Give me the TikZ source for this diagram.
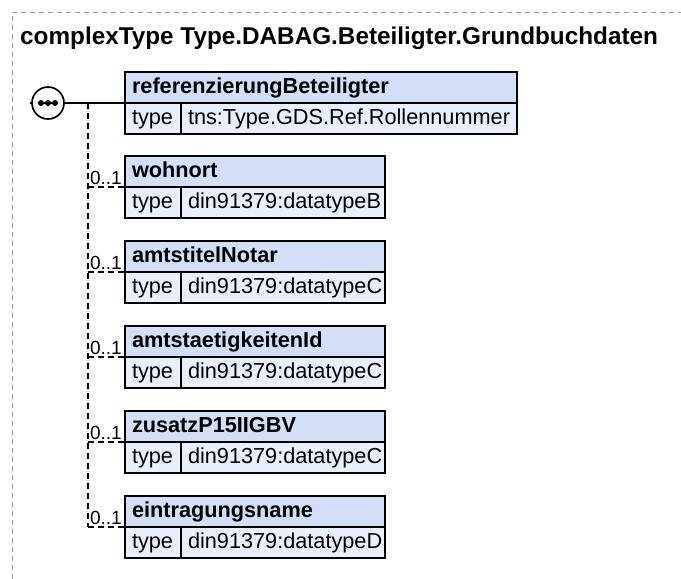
\documentclass[tikz,border=0pt]{standalone}
\usepackage{fontspec}
\setmainfont{Liberation Sans}
\definecolor{hdrfill}{HTML}{D2DFF6}
\definecolor{rowfill}{HTML}{EAF0FB}
\definecolor{framegray}{HTML}{9A9A9A}
\begin{document}
\begin{tikzpicture}[x=1pt,y=-1pt,
  cell/.style={draw=black, line width=1.6pt, anchor=north west, minimum height=31pt,
    inner xsep=7pt, inner ysep=0pt, align=left, outer sep=0pt,
    text height=15.6pt, text depth=4.6pt},
  hdr/.style={cell, fill=hdrfill, font=\fontsize{21.7}{24}\selectfont\bfseries},
  typ/.style={cell, fill=rowfill, font=\fontsize{21.7}{24}\selectfont, text width=42pt},
  val/.style={cell, fill=rowfill, font=\fontsize{21.7}{24}\selectfont},
  card/.style={anchor=base east, inner sep=0pt, font=\fontsize{19}{22}\selectfont},
  conn/.style={line width=1.5pt, dash pattern=on 6pt off 4pt},
  framel/.style={draw=framegray, line width=1pt, dash pattern=on 5pt off 4pt}
]
\useasboundingbox (0,0) rectangle (681,579);
% outer frame
\coordinate (fbl) at (12,579);
\coordinate (ftl) at (12,12);
\coordinate (ftr) at (681,12);
\draw[framel] (fbl) -- (ftl) -- (ftr);
% title
\node[anchor=base west, inner sep=0pt, font=\fontsize{24.3}{28}\selectfont\bfseries] (title) at (20,44) {complexType Type.DABAG.Beteiligter.Grundbuchdaten};

% element 1
\node[hdr, text width=378pt, minimum width=392pt] (h1) at (125,72) {referenzierungBeteiligter};
\node[typ] (t1) at (h1.south west) {type};
\node[val, text width=322pt] (v1) at (t1.north east) {tns:Type.GDS.Ref.Rollennummer};

% elements 2-6
\foreach \n/\top/\name/\tp in {2/156/wohnort/din91379:datatypeB,
                               3/241/amtstitelNotar/din91379:datatypeC,
                               4/326/amtstaetigkeitenId/din91379:datatypeC,
                               5/411/zusatzP15IIGBV/din91379:datatypeC,
                               6/496/eintragungsname/din91379:datatypeD}{
  \node[hdr, text width=246pt, minimum width=260pt] (h\n) at (125,\top) {\name};
  \node[typ] (t\n) at (h\n.south west) {type};
  \node[val, text width=190pt] (v\n) at (t\n.north east) {\tp};
}

% sequence compositor
\coordinate (start) at (30,103);
\node[circle, draw=black, fill=white, line width=1.7pt, minimum size=32pt, inner sep=0pt] (seq) at (48,103) {};
\draw[line width=1.5pt] (start) -- (seq.west);
\draw[line width=1.5pt] (seq.east) -- (h1.south west);
\draw[line width=1.6pt] ([xshift=-7pt]seq.center) -- ([xshift=7pt]seq.center);
\fill ([xshift=-7pt]seq.center) circle (3);
\fill (seq.center) circle (3);
\fill ([xshift=7pt]seq.center) circle (3);

% optional connectors
\coordinate (vtop) at (88,103);
\draw[conn] (vtop) -- (vtop |- h6.south west);
\foreach \n in {2,...,6}{
  \draw[conn] (vtop |- h\n.south west) -- (h\n.south west);
  \node[card] (c\n) at ([xshift=-3pt,yshift=3pt]h\n.south west) {0..1};
}
\end{tikzpicture}
\end{document}
